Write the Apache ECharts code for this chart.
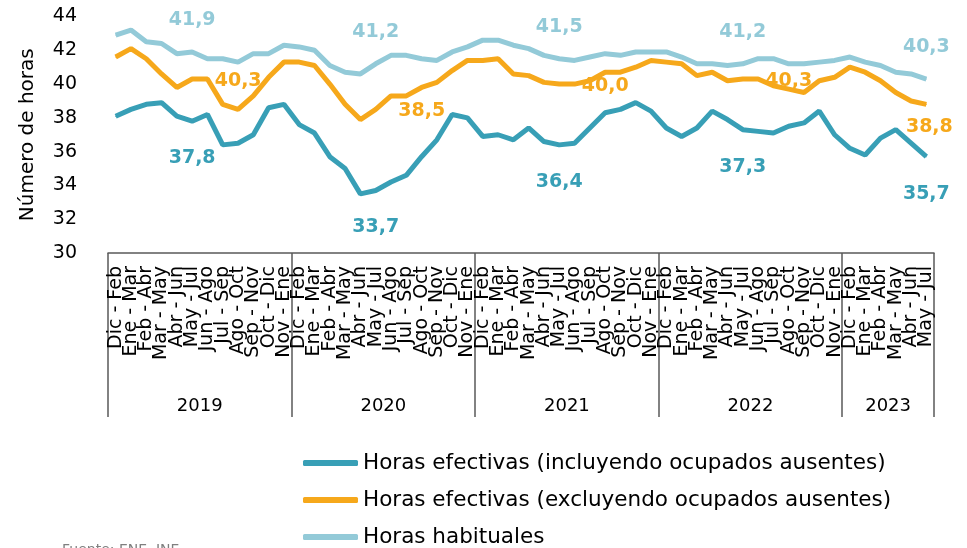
<!DOCTYPE html>
<html>
<head>
    <meta charset="utf-8">
    <title>Horas efectivas y habituales</title>
    <script src="https://cdn.jsdelivr.net/npm/echarts@6/dist/echarts.min.js"></script>
    <style>
        html, body { margin: 0; padding: 0; background: #fff; }
        #chart { width: 967px; height: 548px; }
    </style>
</head>
<body>
<div id="chart"></div>
<script>
    // trimestres móviles, un ciclo por año (2023 llega hasta May - Jul)
    var periodos = ['Dic - Feb', 'Ene - Mar', 'Feb - Abr', 'Mar - May', 'Abr - Jun', 'May - Jul',
        'Jun - Ago', 'Jul - Sep', 'Ago - Oct', 'Sep - Nov', 'Oct - Dic', 'Nov - Ene'];
    var years = ['2019', '2020', '2021', '2022', '2023'];
    var periodsPerYear = [12, 12, 12, 12, 6];

    var efectivasIncl = [
        38.1, 38.5, 38.8, 38.9, 38.1, 37.8, 38.2, 36.4, 36.5, 37.0, 38.6, 38.8,
        37.6, 37.1, 35.7, 35.0, 33.5, 33.7, 34.2, 34.6, 35.7, 36.7, 38.2, 38.0,
        36.9, 37.0, 36.7, 37.4, 36.6, 36.4, 36.5, 37.4, 38.3, 38.5, 38.9, 38.4,
        37.4, 36.9, 37.4, 38.4, 37.9, 37.3, 37.2, 37.1, 37.5, 37.7, 38.4, 37.0,
        36.2, 35.8, 36.8, 37.3, 36.5, 35.7
    ];
    var efectivasExcl = [
        41.6, 42.1, 41.5, 40.6, 39.8, 40.3, 40.3, 38.8, 38.5, 39.3, 40.4, 41.3,
        41.3, 41.1, 40.0, 38.8, 37.9, 38.5, 39.3, 39.3, 39.8, 40.1, 40.8, 41.4,
        41.4, 41.5, 40.6, 40.5, 40.1, 40.0, 40.0, 40.2, 40.7, 40.7, 41.0, 41.4,
        41.3, 41.2, 40.5, 40.7, 40.2, 40.3, 40.3, 39.9, 39.7, 39.5, 40.2, 40.4,
        41.0, 40.7, 40.2, 39.5, 39.0, 38.8
    ];
    var habituales = [
        42.9, 43.2, 42.5, 42.4, 41.8, 41.9, 41.5, 41.5, 41.3, 41.8, 41.8, 42.3,
        42.2, 42.0, 41.1, 40.7, 40.6, 41.2, 41.7, 41.7, 41.5, 41.4, 41.9, 42.2,
        42.6, 42.6, 42.3, 42.1, 41.7, 41.5, 41.4, 41.6, 41.8, 41.7, 41.9, 41.9,
        41.9, 41.6, 41.2, 41.2, 41.1, 41.2, 41.5, 41.5, 41.2, 41.2, 41.3, 41.4,
        41.6, 41.3, 41.1, 40.7, 40.6, 40.3
    ];
    // puntos rotulados: May - Jul de cada año
    var labelIdx = [5, 17, 29, 41, 53];

    var categories = [];
    var yearAt = {};
    var pos = 0;
    years.forEach(function (y, k) {
        yearAt[pos + periodsPerYear[k] / 2] = y;
        for (var j = 0; j < periodsPerYear[k]; j++) categories.push(periodos[j]);
        pos += periodsPerYear[k];
    });

    var FONT = 'DejaVu Sans';
    var colors = ['#389fb6', '#f6a81b', '#93cad8'];

    function fmt(v) { return v.toFixed(1).replace('.', ','); }

    function withLabels(values, color, offsetFor) {
        return values.map(function (v, i) {
            var k = labelIdx.indexOf(i);
            if (k < 0) return v;
            return {
                value: v,
                label: {
                    show: true,
                    position: 'inside',
                    offset: offsetFor(k),
                    formatter: fmt(v),
                    color: color,
                    fontFamily: FONT,
                    fontWeight: 'bold',
                    fontSize: 19
                }
            };
        });
    }

    function lineSeries(name, data, color) {
        return {
            name: name,
            type: 'line',
            data: data,
            symbol: 'circle',
            symbolSize: 1,
            showSymbol: true,
            itemStyle: { color: color },
            lineStyle: { width: 5, color: color },
            emphasis: { disabled: true },
            z: 2
        };
    }

    var chart = echarts.init(document.getElementById('chart'));
    var option = {
        animation: false,
        textStyle: { fontFamily: FONT },
        grid: { left: 108, right: 33, top: 16.5, bottom: 295, containLabel: false },
        legend: {
            orient: 'vertical',
            left: 303,
            top: 451,
            height: 150,
            padding: 0,
            icon: 'roundRect',
            itemWidth: 55,
            itemHeight: 6,
            itemGap: 13,
            textStyle: { fontFamily: FONT, fontSize: 21.5, color: '#000', lineHeight: 24 },
            data: [
                'Horas efectivas (incluyendo ocupados ausentes)',
                'Horas efectivas (excluyendo ocupados ausentes)',
                'Horas habituales'
            ]
        },
        xAxis: [
            {
                type: 'category',
                data: categories,
                boundaryGap: true,
                axisLine: { show: true, lineStyle: { color: '#595959', width: 1.5 } },
                axisTick: {
                    show: true,
                    length: 164,
                    interval: function (idx) { return idx % 12 === 0; },
                    lineStyle: { color: '#595959', width: 1.5 }
                },
                axisLabel: {
                    interval: 0,
                    rotate: 90,
                    margin: 13,
                    fontSize: 19,
                    color: '#000',
                    fontFamily: FONT
                }
            },
            {
                type: 'value',
                position: 'bottom',
                min: 0,
                max: 54,
                interval: 3,
                axisLine: { show: false },
                axisTick: { show: false },
                splitLine: { show: false },
                axisLabel: {
                    margin: 144,
                    fontSize: 18,
                    color: '#000',
                    fontFamily: FONT,
                    showMinLabel: false,
                    showMaxLabel: false,
                    formatter: function (v) { return yearAt[v] || ''; }
                }
            }
        ],
        yAxis: {
            type: 'value',
            min: 30,
            max: 44,
            interval: 2,
            name: 'Número de horas',
            nameLocation: 'middle',
            nameGap: 70,
            nameTextStyle: { fontSize: 20, color: '#000', fontFamily: FONT },
            axisLine: { show: false },
            axisTick: { show: false },
            splitLine: { show: false },
            axisLabel: { fontSize: 19, color: '#000', margin: 31, fontFamily: FONT }
        },
        graphic: [
            {
                type: 'text',
                left: 62,
                top: 543,
                style: { text: 'Fuente: ENE, INE', fontSize: 14, fill: '#7f7f7f', fontFamily: FONT }
            }
        ],
        series: [
            lineSeries('Horas efectivas (incluyendo ocupados ausentes)',
                withLabels(efectivasIncl, colors[0], function () { return [0, 37]; }), colors[0]),
            lineSeries('Horas efectivas (excluyendo ocupados ausentes)',
                withLabels(efectivasExcl, colors[1], function (k) { return k === 4 ? [3, 23] : [46, 2]; }), colors[1]),
            lineSeries('Horas habituales',
                withLabels(habituales, colors[2], function () { return [0, -32]; }), colors[2])
        ]
    };
    chart.setOption(option);
</script>
</body>
</html>
